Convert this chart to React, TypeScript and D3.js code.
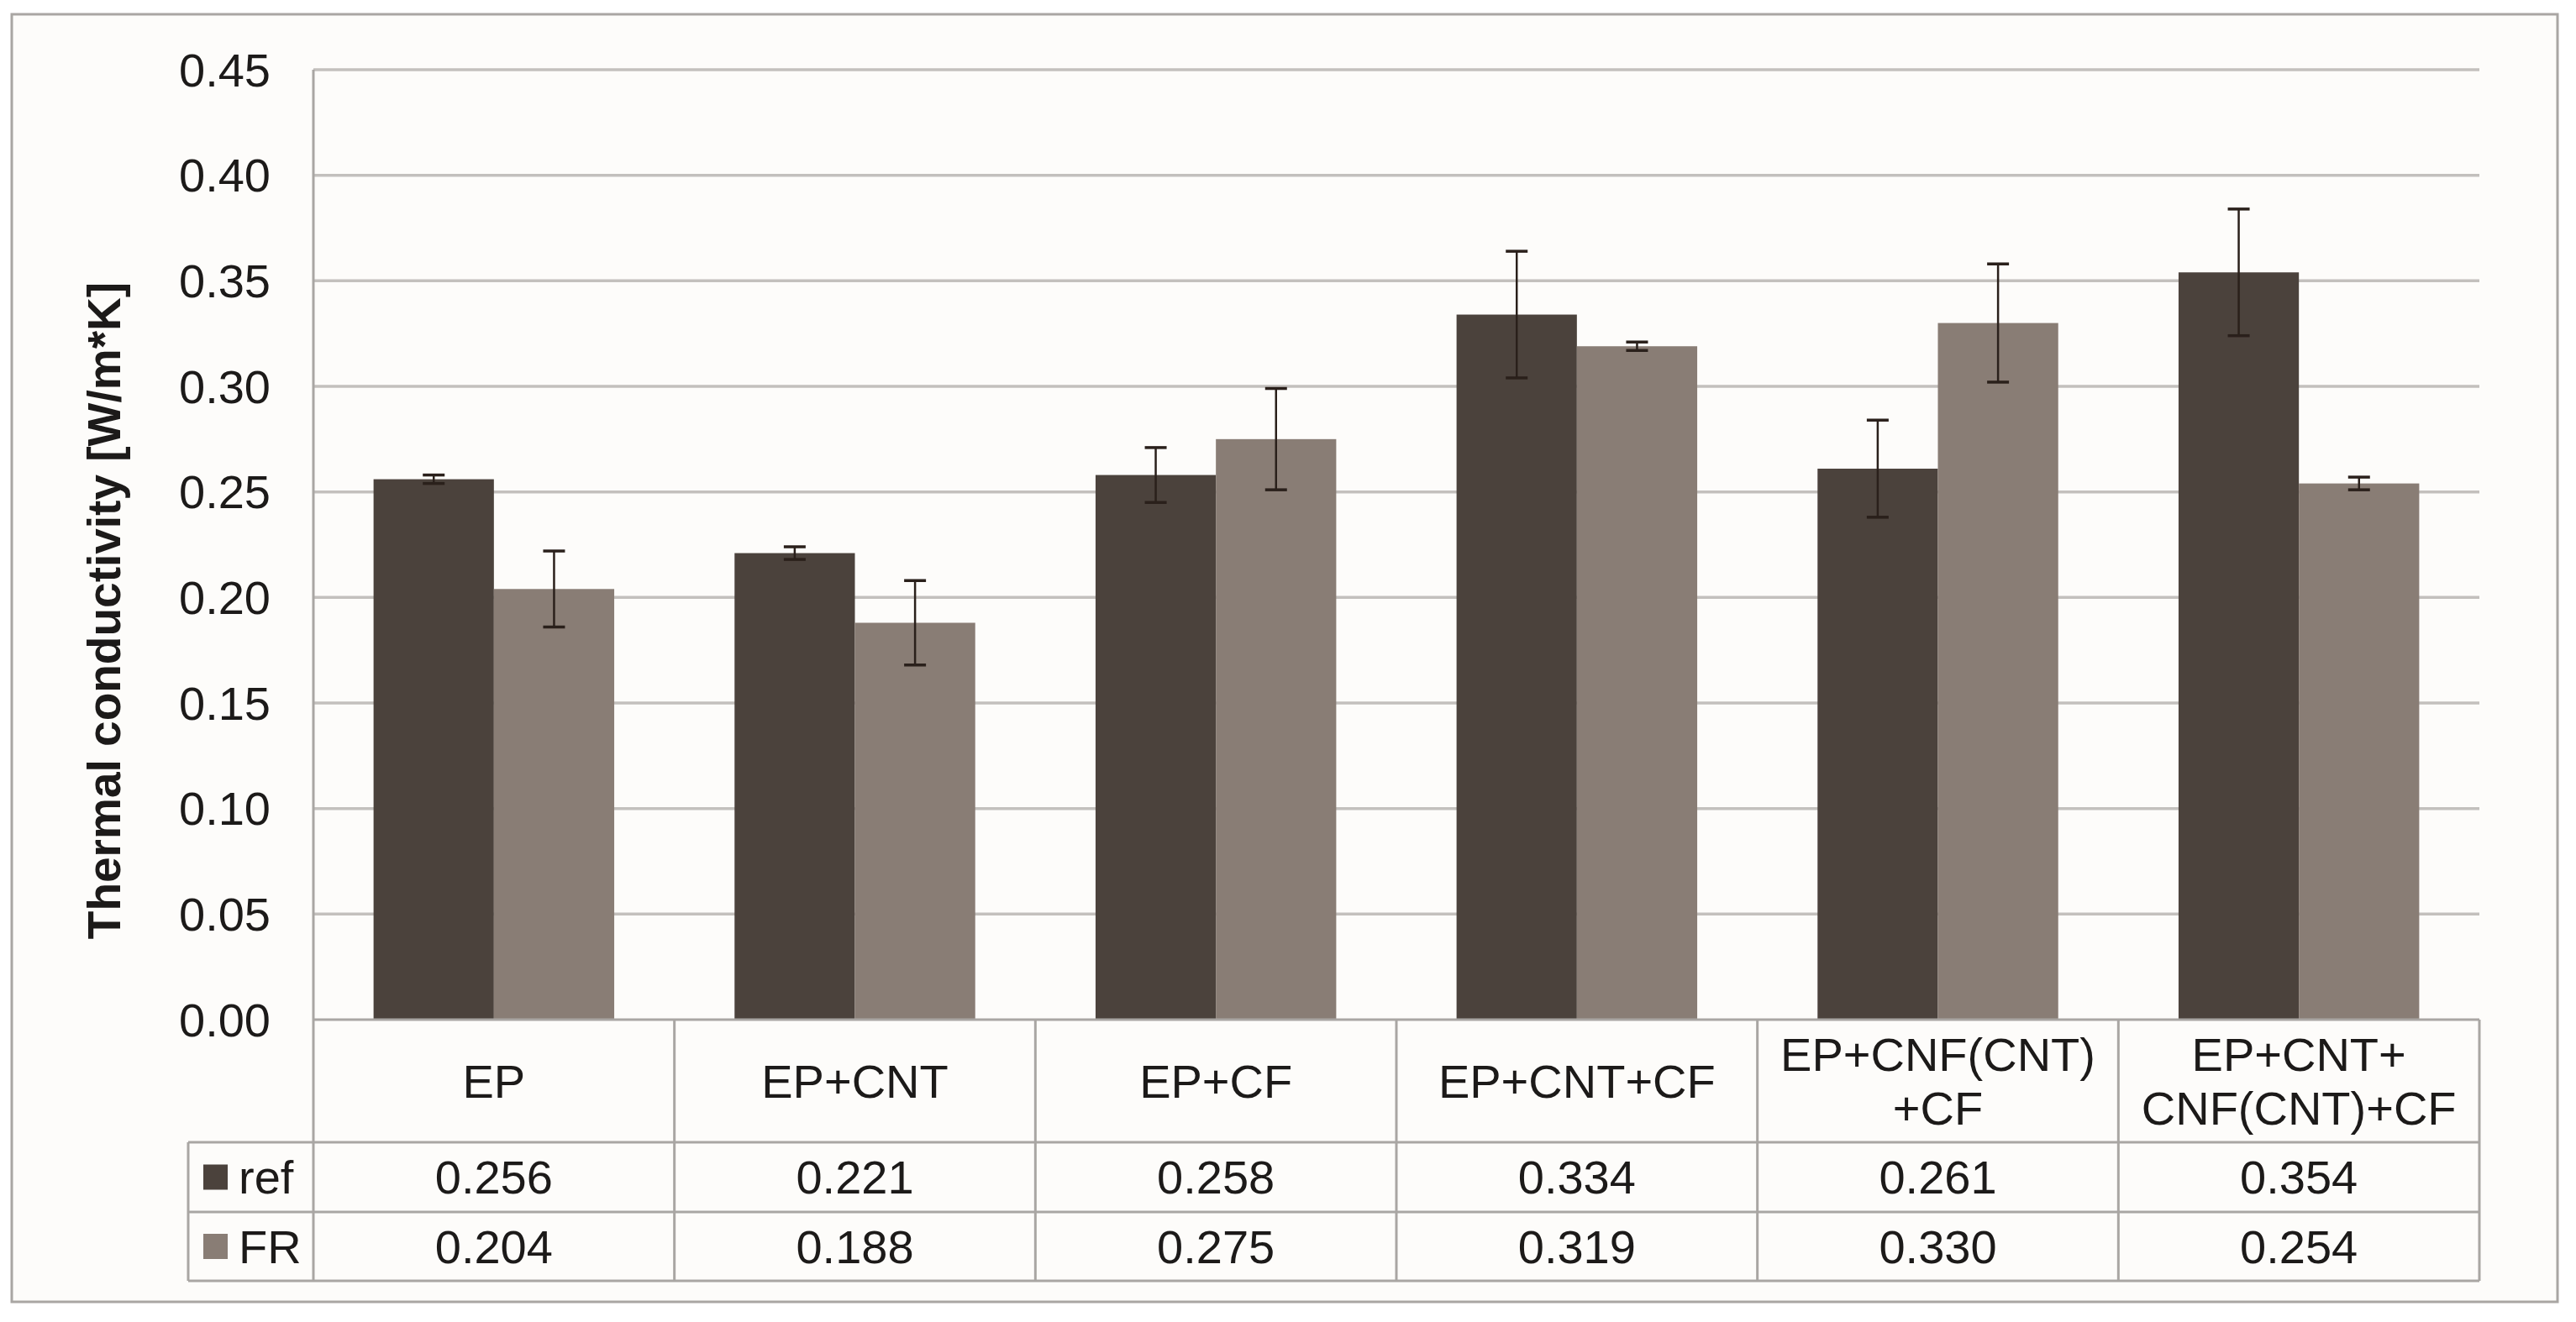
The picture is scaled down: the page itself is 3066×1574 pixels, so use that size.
import React, { useEffect, useRef } from 'react';
import * as d3 from 'd3';

// category labels, split into the lines shown in the data table
const categories: string[][] = [
  ['EP'],
  ['EP+CNT'],
  ['EP+CF'],
  ['EP+CNT+CF'],
  ['EP+CNF(CNT)', '+CF'],
  ['EP+CNT+', 'CNF(CNT)+CF'],
];

const seriesNames = ['ref', 'FR'];
const refValues = [0.256, 0.221, 0.258, 0.334, 0.261, 0.354];
const frValues = [0.204, 0.188, 0.275, 0.319, 0.33, 0.254];
const refErrors = [0.002, 0.003, 0.013, 0.03, 0.023, 0.03];
const frErrors = [0.018, 0.02, 0.024, 0.002, 0.028, 0.003];
const yTicks = [0, 0.05, 0.1, 0.15, 0.2, 0.25, 0.3, 0.35, 0.4, 0.45];

const W = 3066;
const H = 1574;
const FONT = '"Liberation Sans", Arial, sans-serif';
const colors: Record<string, string> = { ref: '#4b423c', FR: '#897d75' };

const App: React.FC = () => {
  const ref = useRef<SVGSVGElement>(null);

  useEffect(() => {
    const svg = d3.select(ref.current);
    svg.selectAll('*').remove();

    const left = 373;
    const right = 2951;
    const top = 83;
    const base = 1214;
    const row1 = 1360;
    const row2 = 1443;
    const tableBottom = 1525;
    const legendLeft = 224;
    const lineColor = '#a9a6a3';
    const gridColor = '#c3c0bd';
    const textColor = '#1c1a19';

    // outer frame
    svg.append('rect')
      .attr('x', 14).attr('y', 17)
      .attr('width', 3044 - 14).attr('height', 1550 - 17)
      .attr('fill', '#fdfcfa')
      .attr('stroke', lineColor)
      .attr('stroke-width', 3);

    const y = d3.scaleLinear().domain([0, 0.45]).range([base, top]);
    const x = d3.scaleBand<number>()
      .domain(categories.map((_, i) => i))
      .range([left, right])
      .paddingInner(0)
      .paddingOuter(0);
    const xSub = d3.scaleBand<string>()
      .domain(seriesNames)
      .range([0, x.bandwidth()])
      .paddingInner(0)
      .paddingOuter(0.5);

    // gridlines
    svg.append('g')
      .selectAll('line')
      .data(yTicks.filter(t => t > 0))
      .enter()
      .append('line')
      .attr('x1', left).attr('x2', right)
      .attr('y1', d => y(d)).attr('y2', d => y(d))
      .attr('stroke', gridColor)
      .attr('stroke-width', 3.5);

    // y tick labels
    svg.append('g')
      .selectAll('text')
      .data(yTicks)
      .enter()
      .append('text')
      .attr('x', 322)
      .attr('y', d => y(d))
      .attr('dy', '0.35em')
      .attr('text-anchor', 'end')
      .attr('font-family', FONT)
      .attr('font-size', 56)
      .attr('fill', textColor)
      .text(d => d3.format('.2f')(d));

    // y axis title
    svg.append('text')
      .attr('transform', `translate(124, 727) rotate(-90)`)
      .attr('dy', '0.35em')
      .attr('text-anchor', 'middle')
      .attr('font-family', FONT)
      .attr('font-size', 55)
      .attr('font-weight', 'bold')
      .attr('fill', textColor)
      .text('Thermal conductivity [W/m*K]');

    // bars
    const seriesData = [
      { name: 'ref', values: refValues, errors: refErrors },
      { name: 'FR', values: frValues, errors: frErrors },
    ];

    seriesData.forEach(s => {
      const g = svg.append('g');
      g.selectAll('rect')
        .data(s.values)
        .enter()
        .append('rect')
        .attr('x', (_, i) => x(i)! + xSub(s.name)!)
        .attr('width', xSub.bandwidth())
        .attr('y', d => y(d))
        .attr('height', d => base - y(d))
        .attr('fill', colors[s.name]);
    });

    // error bars
    seriesData.forEach(s => {
      const g = svg.append('g').attr('stroke', '#2a201b').attr('stroke-width', 2.5);
      s.values.forEach((v, i) => {
        const cx = x(i)! + xSub(s.name)! + xSub.bandwidth() / 2;
        const e = s.errors[i];
        g.append('line')
          .attr('x1', cx).attr('x2', cx)
          .attr('y1', y(v + e)).attr('y2', y(v - e));
        [v + e, v - e].forEach(val => {
          g.append('line')
            .attr('x1', cx - 13).attr('x2', cx + 13)
            .attr('y1', y(val)).attr('y2', y(val))
            .attr('stroke-width', 3.5);
        });
      });
    });

    // data table lines
    const table = svg.append('g').attr('stroke', lineColor).attr('stroke-width', 3);
    table.append('line').attr('x1', left).attr('x2', right).attr('y1', base).attr('y2', base);
    [row1, row2, tableBottom].forEach(yy => {
      table.append('line').attr('x1', legendLeft).attr('x2', right).attr('y1', yy).attr('y2', yy);
    });
    table.append('line').attr('x1', legendLeft).attr('x2', legendLeft).attr('y1', row1).attr('y2', tableBottom);
    // y axis line runs down through the table
    table.append('line').attr('x1', left).attr('x2', left).attr('y1', top).attr('y2', tableBottom);
    categories.forEach((_, i) => {
      const xx = x(i)! + x.bandwidth();
      table.append('line').attr('x1', xx).attr('x2', xx).attr('y1', base).attr('y2', tableBottom);
    });

    // category labels
    const catMid = (base + row1) / 2;
    categories.forEach((lines, i) => {
      const cx = x(i)! + x.bandwidth() / 2;
      lines.forEach((line, j) => {
        svg.append('text')
          .attr('x', cx)
          .attr('y', catMid + (j - (lines.length - 1) / 2) * 64)
          .attr('dy', '0.35em')
          .attr('text-anchor', 'middle')
          .attr('font-family', FONT)
          .attr('font-size', 56)
          .attr('fill', textColor)
          .text(line);
      });
    });

    // value rows with legend keys
    const rows = [
      { name: 'ref', values: refValues, mid: (row1 + row2) / 2 },
      { name: 'FR', values: frValues, mid: (row2 + tableBottom) / 2 },
    ];
    rows.forEach(r => {
      svg.append('rect')
        .attr('x', 242).attr('y', r.mid - 15)
        .attr('width', 29).attr('height', 30)
        .attr('fill', colors[r.name]);
      svg.append('text')
        .attr('x', 284).attr('y', r.mid)
        .attr('dy', '0.35em')
        .attr('font-family', FONT)
        .attr('font-size', 56)
        .attr('fill', textColor)
        .text(r.name);
      r.values.forEach((v, i) => {
        svg.append('text')
          .attr('x', x(i)! + x.bandwidth() / 2)
          .attr('y', r.mid)
          .attr('dy', '0.35em')
          .attr('text-anchor', 'middle')
          .attr('font-family', FONT)
          .attr('font-size', 56)
          .attr('fill', textColor)
          .text(d3.format('.3f')(v));
      });
    });
  }, []);

  return (
    <svg
      ref={ref}
      width={W}
      height={H}
      style={{ position: 'absolute', left: 0, top: 0, display: 'block', background: '#ffffff' }}
    />
  );
};

export default App;
